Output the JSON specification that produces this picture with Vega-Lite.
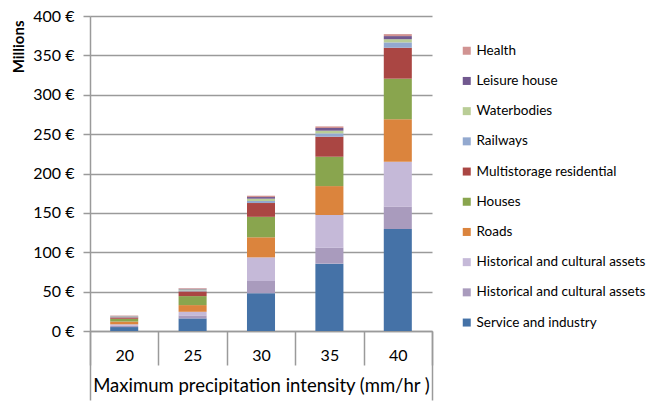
{
  "$schema": "https://vega.github.io/schema/vega-lite/v6.json",
  "width": 342,
  "height": 315,
  "autosize": {"type": "none"},
  "padding": {"left": 90, "top": 16, "right": 214, "bottom": 70},
  "background": "white",
  "config": {"view": {"stroke": null}, "font": "Lato"},
  "datasets": {
    "costs": [
      {"intensity": "20", "series": "Service and industry", "cost": 5},
      {"intensity": "20", "series": "Historical and cultural assets", "cost": 1.5},
      {"intensity": "20", "series": "Historical and cultural assets ", "cost": 2},
      {"intensity": "20", "series": "Roads", "cost": 3.5},
      {"intensity": "20", "series": "Houses", "cost": 3.5},
      {"intensity": "20", "series": "Multistorage residential", "cost": 1.8},
      {"intensity": "20", "series": "Railways", "cost": 0.8},
      {"intensity": "20", "series": "Waterbodies", "cost": 0.6},
      {"intensity": "20", "series": "Leisure house", "cost": 0.4},
      {"intensity": "20", "series": "Health", "cost": 0.5},
      {"intensity": "25", "series": "Service and industry", "cost": 16},
      {"intensity": "25", "series": "Historical and cultural assets", "cost": 3.8},
      {"intensity": "25", "series": "Historical and cultural assets ", "cost": 4.6},
      {"intensity": "25", "series": "Roads", "cost": 8.5},
      {"intensity": "25", "series": "Houses", "cost": 11.4},
      {"intensity": "25", "series": "Multistorage residential", "cost": 6},
      {"intensity": "25", "series": "Railways", "cost": 1.3},
      {"intensity": "25", "series": "Waterbodies", "cost": 1.2},
      {"intensity": "25", "series": "Leisure house", "cost": 0.8},
      {"intensity": "25", "series": "Health", "cost": 0.8},
      {"intensity": "30", "series": "Service and industry", "cost": 48},
      {"intensity": "30", "series": "Historical and cultural assets", "cost": 15.5},
      {"intensity": "30", "series": "Historical and cultural assets ", "cost": 30},
      {"intensity": "30", "series": "Roads", "cost": 25.5},
      {"intensity": "30", "series": "Houses", "cost": 26},
      {"intensity": "30", "series": "Multistorage residential", "cost": 17.5},
      {"intensity": "30", "series": "Railways", "cost": 2.6},
      {"intensity": "30", "series": "Waterbodies", "cost": 2.9},
      {"intensity": "30", "series": "Leisure house", "cost": 2.1},
      {"intensity": "30", "series": "Health", "cost": 1.7},
      {"intensity": "35", "series": "Service and industry", "cost": 85.5},
      {"intensity": "35", "series": "Historical and cultural assets", "cost": 20.3},
      {"intensity": "35", "series": "Historical and cultural assets ", "cost": 41.5},
      {"intensity": "35", "series": "Roads", "cost": 36.7},
      {"intensity": "35", "series": "Houses", "cost": 37.3},
      {"intensity": "35", "series": "Multistorage residential", "cost": 25.4},
      {"intensity": "35", "series": "Railways", "cost": 4.3},
      {"intensity": "35", "series": "Waterbodies", "cost": 3.4},
      {"intensity": "35", "series": "Leisure house", "cost": 3.4},
      {"intensity": "35", "series": "Health", "cost": 2},
      {"intensity": "40", "series": "Service and industry", "cost": 129.5},
      {"intensity": "40", "series": "Historical and cultural assets", "cost": 28.4},
      {"intensity": "40", "series": "Historical and cultural assets ", "cost": 57},
      {"intensity": "40", "series": "Roads", "cost": 54},
      {"intensity": "40", "series": "Houses", "cost": 51.5},
      {"intensity": "40", "series": "Multistorage residential", "cost": 39.3},
      {"intensity": "40", "series": "Railways", "cost": 6.8},
      {"intensity": "40", "series": "Waterbodies", "cost": 4},
      {"intensity": "40", "series": "Leisure house", "cost": 4},
      {"intensity": "40", "series": "Health", "cost": 2.5}
    ]
  },
  "layer": [
    {
      "data": {"name": "costs"},
      "transform": [
        {"calculate": "indexof(['Service and industry','Historical and cultural assets','Historical and cultural assets ','Roads','Houses','Multistorage residential','Railways','Waterbodies','Leisure house','Health'], datum.series)", "as": "stack_rank"}
      ],
      "mark": {"type": "bar", "width": {"band": 0.41}},
      "encoding": {
        "x": {
          "field": "intensity",
          "type": "nominal",
          "scale": {"paddingInner": 0, "paddingOuter": 0},
          "axis": {
            "orient": "bottom",
            "title": "Maximum precipitation intensity (mm/hr )",
            "tickBand": "extent",
            "tickSize": 34,
            "tickColor": "#9a9a9a",
            "tickWidth": 1.5,
            "domainColor": "#9a9a9a",
            "domainWidth": 1.5,
            "labelAngle": 0,
            "labelFontSize": 16,
            "labelColor": "black",
            "labelPadding": -10,
            "labelBaseline": "middle",
            "titleFontSize": 18.5,
            "titleFontWeight": "normal",
            "titleColor": "black",
            "titleY": 54,
            "titleBaseline": "middle",
            "grid": false
          }
        },
        "y": {
          "field": "cost",
          "type": "quantitative",
          "stack": "zero",
          "scale": {"domain": [0, 400], "nice": false},
          "axis": {
            "title": "Millions",
            "titleFontSize": 15,
            "titleFontWeight": "bold",
            "titleColor": "black",
            "titleAngle": -90,
            "titleX": -72,
            "titleY": 4,
            "titleAlign": "right",
            "titleBaseline": "middle",
            "values": [0, 50, 100, 150, 200, 250, 300, 350, 400],
            "labelExpr": "datum.value + ' €'",
            "labelFontSize": 16,
            "labelColor": "black",
            "labelPadding": 9,
            "tickSize": 7,
            "tickColor": "#9a9a9a",
            "tickWidth": 1.5,
            "gridColor": "#9a9a9a",
            "gridWidth": 1.5,
            "domainColor": "#9a9a9a",
            "domainWidth": 1.5
          }
        },
        "color": {
          "field": "series",
          "type": "nominal",
          "scale": {
            "domain": ["Health", "Leisure house", "Waterbodies", "Railways", "Multistorage residential", "Houses", "Roads", "Historical and cultural assets ", "Historical and cultural assets", "Service and industry"],
            "range": ["#D19392", "#71588F", "#B9CD96", "#93A9CF", "#AA4643", "#89A54E", "#DB843D", "#C5B9D8", "#A99BBD", "#4572A7"]
          },
          "legend": {
            "orient": "none",
            "legendX": 370,
            "legendY": 28,
            "title": null,
            "symbolType": "square",
            "symbolSize": 64,
            "symbolStrokeWidth": 0,
            "labelFontSize": 13.5,
            "labelColor": "black",
            "labelLimit": 260,
            "labelOffset": 3,
            "rowPadding": 15.2
          }
        },
        "order": {"field": "stack_rank", "type": "quantitative", "sort": "ascending"}
      }
    },
    {
      "data": {"name": "costs"},
      "mark": {"type": "bar", "opacity": 0},
      "encoding": {
        "x": {
          "field": "intensity",
          "type": "nominal",
          "axis": {
            "orient": "bottom",
            "values": ["20"],
            "bandPosition": 0,
            "tickSize": 69,
            "tickColor": "#9a9a9a",
            "tickWidth": 1.5,
            "labels": false,
            "domain": false,
            "title": null,
            "grid": false
          }
        }
      }
    },
    {
      "data": {"name": "costs"},
      "mark": {"type": "bar", "opacity": 0},
      "encoding": {
        "x": {
          "field": "intensity",
          "type": "nominal",
          "axis": {
            "orient": "bottom",
            "values": ["40"],
            "bandPosition": 1,
            "tickSize": 69,
            "tickColor": "#9a9a9a",
            "tickWidth": 1.5,
            "labels": false,
            "domain": false,
            "title": null,
            "grid": false
          }
        }
      }
    }
  ],
  "resolve": {"axis": {"x": "independent"}}
}
